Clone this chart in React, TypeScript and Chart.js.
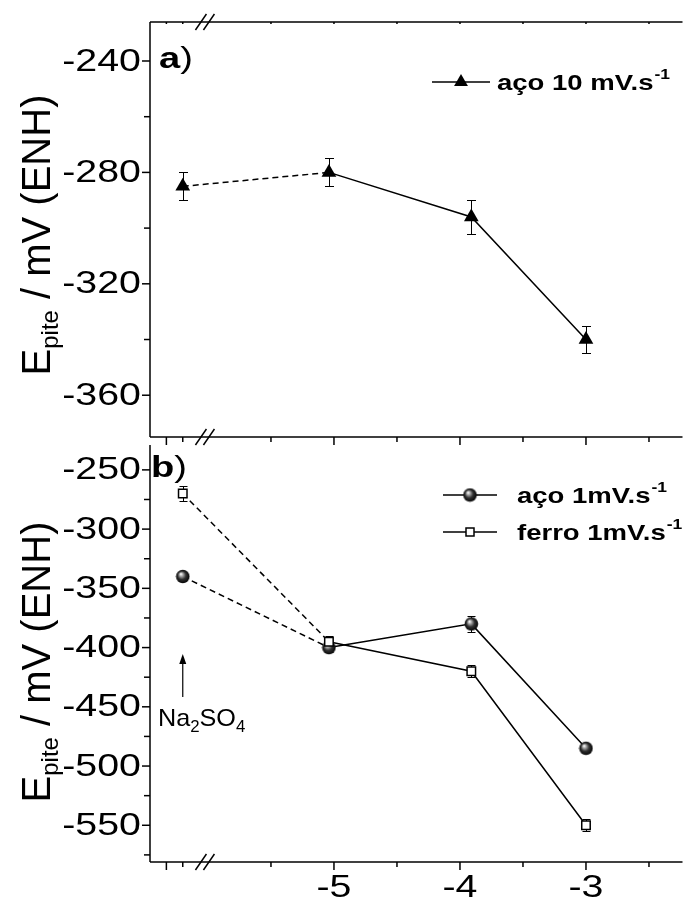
import React, { useEffect, useRef } from 'react';
import { Chart, registerables } from 'chart.js';

Chart.register(...registerables);

// ---------- data ----------
// x position: first point is the Na2SO4 reference (left of the axis break), others are log concentration
const xValues = [-6.2, -5.04, -3.91, -3.0];

const acoFast = [-285, -280, -296, -340];
const acoFastErr = [5, 5, 6, 5];

const acoSlow = [-340, -400, -380, -485];
const acoSlowErr = [3, 4, 7, 3];

const ferroSlow = [-270, -395, -420, -550];
const ferroSlowErr = [6, 5, 5, 5];

const xMajorTicks = [-5, -4, -3];
const xMinorTicks = [-5.5, -4.5, -3.5, -2.5];
const xBreakMajorTicks = [-6.33];
const xBreakMinorTicks = [-6.2];
const xBreakAt = -6.02;

const topMajorTicks = [-360, -320, -280, -240];
const topMinorTicks = [-340, -300, -260];
const botMajorTicks = [-550, -500, -450, -400, -350, -300, -250];
const botMinorTicks = [-575, -525, -475, -425, -375, -325, -275];

const FONT = '"Liberation Sans", Arial, Helvetica, sans-serif';
const SX = 1.27; // horizontal stretch of the reference lettering

function makeSphere(): HTMLCanvasElement {
  const c = document.createElement('canvas');
  c.width = 15;
  c.height = 15;
  const g = c.getContext('2d')!;
  const grad = g.createRadialGradient(5.5, 5, 0.3, 7.5, 7.5, 7.2);
  grad.addColorStop(0, '#ffffff');
  grad.addColorStop(0.2, '#b0b0b0');
  grad.addColorStop(0.55, '#303030');
  grad.addColorStop(1, '#000000');
  g.fillStyle = grad;
  g.beginPath();
  g.arc(7.5, 7.5, 6.8, 0, Math.PI * 2);
  g.fill();
  return c;
}

function line(ctx: CanvasRenderingContext2D, x1: number, y1: number, x2: number, y2: number) {
  ctx.beginPath();
  ctx.moveTo(x1, y1);
  ctx.lineTo(x2, y2);
  ctx.stroke();
}

function stretchText(
  ctx: CanvasRenderingContext2D,
  text: string,
  x: number,
  y: number,
  font: string,
  align: CanvasTextAlign,
  baseline: CanvasTextBaseline,
  sx: number = SX
): number {
  ctx.save();
  ctx.font = font;
  ctx.textAlign = align;
  ctx.textBaseline = baseline;
  ctx.translate(x, y);
  ctx.scale(sx, 1);
  ctx.fillStyle = '#000';
  ctx.fillText(text, 0, 0);
  const w = ctx.measureText(text).width * sx;
  ctx.restore();
  return w;
}

function breakMark(ctx: CanvasRenderingContext2D, x: number, y: number) {
  ctx.save();
  ctx.lineWidth = 1.5;
  ctx.strokeStyle = '#000';
  line(ctx, x - 10, y + 8, x + 1, y - 8);
  line(ctx, x - 2, y + 8, x + 9, y - 8);
  ctx.restore();
}

function yTitle(ctx: CanvasRenderingContext2D, cx: number, cy: number) {
  ctx.save();
  ctx.translate(cx, cy);
  ctx.rotate(-Math.PI / 2);
  ctx.fillStyle = '#000';
  ctx.textBaseline = 'alphabetic';
  const big = `40px ${FONT}`;
  const small = `24px ${FONT}`;
  ctx.font = big;
  const wE = ctx.measureText('E').width;
  const rest = ' / mV (ENH)';
  const wRest = ctx.measureText(rest).width;
  ctx.font = small;
  const wSub = ctx.measureText('pite').width;
  const total = wE + wSub + wRest;
  let x = -total / 2;
  const base = 13;
  ctx.font = big;
  ctx.fillText('E', x, base);
  x += wE;
  ctx.font = small;
  ctx.fillText('pite', x, base + 8);
  x += wSub;
  ctx.font = big;
  ctx.fillText(rest, x, base);
  ctx.restore();
}

function errorBars(chart: any, errs: number[][], capHalf: number[]) {
  const { ctx } = chart;
  const yScale = chart.scales.y;
  const xScale = chart.scales.x;
  ctx.save();
  ctx.strokeStyle = '#000';
  ctx.lineWidth = 1;
  chart.data.datasets.forEach((ds: any, i: number) => {
    const e = errs[i];
    if (!e) return;
    ds.data.forEach((p: any, j: number) => {
      const px = Math.round(xScale.getPixelForValue(p.x)) + 0.5;
      const y1 = Math.round(yScale.getPixelForValue(p.y + e[j])) + 0.5;
      const y2 = Math.round(yScale.getPixelForValue(p.y - e[j])) + 0.5;
      line(ctx, px, y1, px, y2);
      line(ctx, px - capHalf[i], y1, px + capHalf[i], y1);
      line(ctx, px - capHalf[i], y2, px + capHalf[i], y2);
    });
  });
  ctx.restore();
}

function drawLeftAxis(chart: any, major: number[], minor: number[]) {
  const { ctx, chartArea: a } = chart;
  const y = chart.scales.y;
  ctx.save();
  ctx.strokeStyle = '#000';
  ctx.lineWidth = 1.5;
  line(ctx, a.left, a.top, a.left, a.bottom);
  major.forEach((v) => {
    const py = y.getPixelForValue(v);
    line(ctx, a.left - 8, py, a.left, py);
    stretchText(ctx, String(v), a.left - 9, py + 1, `31px ${FONT}`, 'right', 'middle');
  });
  minor.forEach((v) => {
    const py = y.getPixelForValue(v);
    line(ctx, a.left - 6, py, a.left, py);
  });
  ctx.restore();
}

function drawXTicks(chart: any, yPix: number, dir: number, len: number, minorLen: number) {
  const { ctx } = chart;
  const x = chart.scales.x;
  ctx.save();
  ctx.strokeStyle = '#000';
  ctx.lineWidth = 1.5;
  [...xMajorTicks, ...xBreakMajorTicks].forEach((v) => {
    const px = x.getPixelForValue(v);
    line(ctx, px, yPix, px, yPix + dir * len);
  });
  [...xMinorTicks, ...xBreakMinorTicks].forEach((v) => {
    const px = x.getPixelForValue(v);
    line(ctx, px, yPix, px, yPix + dir * minorLen);
  });
  ctx.restore();
}

function drawTriangle(ctx: CanvasRenderingContext2D, cx: number, cy: number, r: number) {
  const h = r * 1.5;
  const w = r * Math.sqrt(3);
  ctx.beginPath();
  ctx.moveTo(cx, cy - r);
  ctx.lineTo(cx + w / 2, cy - r + h);
  ctx.lineTo(cx - w / 2, cy - r + h);
  ctx.closePath();
  ctx.fill();
}

function superText(ctx: CanvasRenderingContext2D, main: string, sup: string, x: number, y: number, size: number) {
  const w = stretchText(ctx, main, x, y, `bold ${size}px ${FONT}`, 'left', 'alphabetic', 1.25);
  stretchText(ctx, sup, x + w + 1, y - size * 0.5, `bold ${Math.round(size * 0.62)}px ${FONT}`, 'left', 'alphabetic', 1.25);
}

function panelLabel(ctx: CanvasRenderingContext2D, letter: string, x: number, y: number) {
  const w = stretchText(ctx, letter, x, y, `bold 30px ${FONT}`, 'left', 'alphabetic');
  stretchText(ctx, ')', x + w, y, `30px ${FONT}`, 'left', 'alphabetic');
}

export default function App() {
  const topRef = useRef<HTMLCanvasElement>(null);
  const botRef = useRef<HTMLCanvasElement>(null);

  useEffect(() => {
    const sphere = makeSphere();

    const topPlugin = {
      id: 'topDecor',
      beforeDatasetsDraw(chart: any) {
        errorBars(chart, [acoFastErr], [4.5]);
      },
      afterDraw(chart: any) {
        const { ctx, chartArea: a } = chart;
        drawLeftAxis(chart, topMajorTicks, topMinorTicks);
        ctx.save();
        ctx.strokeStyle = '#000';
        ctx.lineWidth = 1.5;
        line(ctx, a.left, a.top, a.right, a.top);
        line(ctx, a.left, a.bottom, a.right, a.bottom);
        ctx.restore();
        drawXTicks(chart, a.bottom, 1, 8, 5);
        drawXTicks(chart, a.top, 1, 2, 2);
        const bx = chart.scales.x.getPixelForValue(xBreakAt);
        breakMark(ctx, bx, a.top);
        breakMark(ctx, bx, a.bottom);
        yTitle(ctx, 37, 235);
        panelLabel(ctx, 'a', 159, 68);
        // legend
        ctx.save();
        ctx.fillStyle = '#000';
        ctx.strokeStyle = '#000';
        ctx.lineWidth = 1.5;
        line(ctx, 432, 82, 490, 82);
        drawTriangle(ctx, 461, 82, 8);
        superText(ctx, 'aço 10 mV.s', '-1', 497, 90, 22);
        ctx.restore();
      },
    };

    const botPlugin = {
      id: 'botDecor',
      beforeDatasetsDraw(chart: any) {
        errorBars(chart, [ferroSlowErr, acoSlowErr], [4, 4]);
      },
      afterDraw(chart: any) {
        const { ctx, chartArea: a } = chart;
        drawLeftAxis(chart, botMajorTicks, botMinorTicks);
        ctx.save();
        ctx.strokeStyle = '#000';
        ctx.lineWidth = 1.5;
        line(ctx, a.left, a.bottom, a.right, a.bottom);
        ctx.restore();
        drawXTicks(chart, a.bottom, 1, 8, 5);
        const x = chart.scales.x;
        const bx = x.getPixelForValue(xBreakAt);
        breakMark(ctx, bx, a.bottom);
        xMajorTicks.forEach((v) => {
          stretchText(ctx, String(v), x.getPixelForValue(v), a.bottom + 11, `31px ${FONT}`, 'center', 'top');
        });
        yTitle(ctx, 37, 662);
        panelLabel(ctx, 'b', 151, 477);
        // Na2SO4 annotation
        ctx.save();
        ctx.fillStyle = '#000';
        ctx.strokeStyle = '#000';
        const ax = x.getPixelForValue(xValues[0]);
        ctx.lineWidth = 1.2;
        line(ctx, ax, 697, ax, 660);
        ctx.beginPath();
        ctx.moveTo(ax, 654);
        ctx.lineTo(ax - 3.5, 664);
        ctx.lineTo(ax + 3.5, 664);
        ctx.closePath();
        ctx.fill();
        const big = `24px ${FONT}`;
        const small = `16px ${FONT}`;
        let tx = 158;
        const by = 726;
        tx += stretchText(ctx, 'Na', tx, by, big, 'left', 'alphabetic', 1.05);
        tx += stretchText(ctx, '2', tx, by + 6, small, 'left', 'alphabetic', 1.05);
        tx += stretchText(ctx, 'SO', tx, by, big, 'left', 'alphabetic', 1.05);
        stretchText(ctx, '4', tx, by + 6, small, 'left', 'alphabetic', 1.05);
        // legend
        ctx.lineWidth = 1.5;
        line(ctx, 443, 495, 497, 495);
        ctx.drawImage(sphere, 470 - 7.5, 495 - 7.5);
        superText(ctx, 'aço 1mV.s', '-1', 517, 503, 22);
        line(ctx, 443, 532, 497, 532);
        ctx.fillStyle = '#fff';
        ctx.fillRect(466, 528, 8, 8);
        ctx.strokeRect(466, 528, 8, 8);
        ctx.fillStyle = '#000';
        superText(ctx, 'ferro 1mV.s', '-1', 517, 540, 22);
        ctx.restore();
      },
    };

    const dashSeg = { borderDash: (c: any) => (c.p0DataIndex === 0 ? [6, 4] : undefined) };
    const pts = (ys: number[]) => ys.map((v, i) => ({ x: xValues[i], y: v }));

    const xScale = { type: 'linear' as const, min: -6.46, max: -2.234, display: false };

    const top = new Chart(topRef.current!, {
      type: 'line',
      data: {
        datasets: [
          {
            label: 'aço 10 mV.s-1',
            data: pts(acoFast),
            borderColor: '#000',
            borderWidth: 1.5,
            backgroundColor: '#000',
            pointStyle: 'triangle',
            pointRadius: 8.5,
            pointBorderWidth: 0,
            segment: dashSeg,
          },
        ],
      },
      options: {
        animation: false,
        responsive: false,
        devicePixelRatio: 1,
        layout: { padding: { left: 150, right: 0, top: 22, bottom: 901 - 437 } },
        plugins: { legend: { display: false }, tooltip: { enabled: false } },
        scales: { x: xScale, y: { type: 'linear', min: -375, max: -226, display: false } },
      },
      plugins: [topPlugin],
    });

    const bot = new Chart(botRef.current!, {
      type: 'line',
      data: {
        datasets: [
          {
            label: 'ferro 1mV.s-1',
            data: pts(ferroSlow),
            borderColor: '#000',
            borderWidth: 1.5,
            backgroundColor: '#fff',
            pointStyle: 'rect',
            pointRadius: 6,
            pointBorderColor: '#000',
            pointBorderWidth: 1.5,
            segment: dashSeg,
          },
          {
            label: 'aço 1mV.s-1',
            data: pts(acoSlow),
            borderColor: '#000',
            borderWidth: 1.5,
            backgroundColor: '#000',
            pointStyle: sphere,
            pointRadius: 7,
            segment: dashSeg,
          },
        ],
      },
      options: {
        animation: false,
        responsive: false,
        devicePixelRatio: 1,
        layout: { padding: { left: 150, right: 0, top: 445, bottom: 901 - 862 } },
        plugins: { legend: { display: false }, tooltip: { enabled: false } },
        scales: { x: xScale, y: { type: 'linear', min: -581, max: -229, display: false } },
      },
      plugins: [botPlugin],
    });

    return () => {
      top.destroy();
      bot.destroy();
    };
  }, []);

  const cs: React.CSSProperties = { position: 'absolute', left: 0, top: 0, width: 691, height: 901 };
  return (
    <div style={{ position: 'absolute', left: 0, top: 0, width: 691, height: 901, background: '#fff', overflow: 'hidden' }}>
      <canvas ref={topRef} width={691} height={901} style={cs} />
      <canvas ref={botRef} width={691} height={901} style={cs} />
    </div>
  );
}
